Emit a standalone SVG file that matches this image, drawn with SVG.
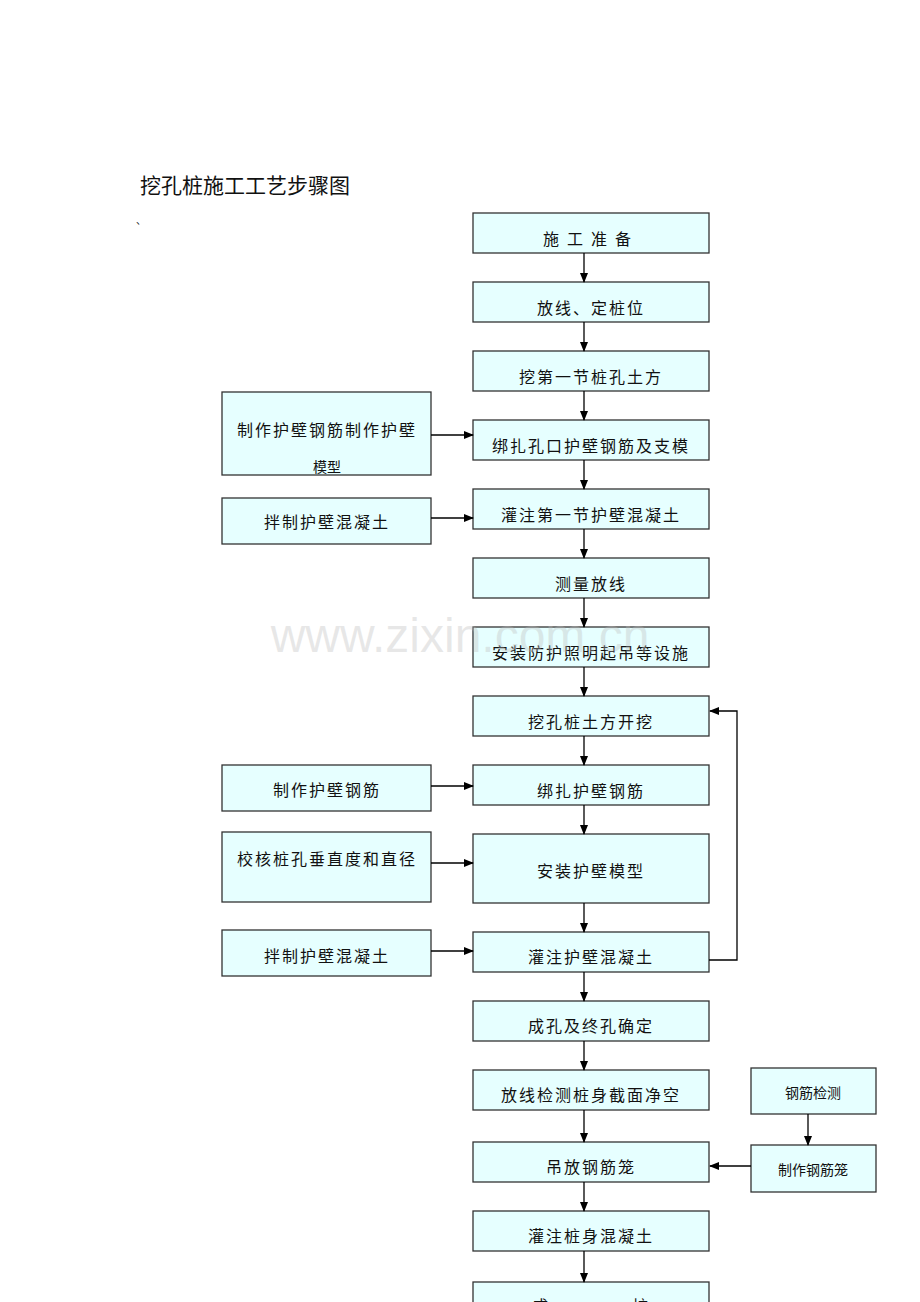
<svg xmlns="http://www.w3.org/2000/svg" width="920" height="1302" viewBox="0 0 920 1302">
<defs><marker id="a" markerWidth="10" markerHeight="8" refX="9" refY="4" orient="auto" markerUnits="userSpaceOnUse"><path d="M0,0L10,4L0,8z" fill="#000"/></marker></defs>
<style>rect{fill:#e6ffff;stroke:#333;stroke-width:1.3}text{font-family:"Noto Sans CJK SC",sans-serif;font-size:16px;fill:#111;text-anchor:middle;letter-spacing:2px}.c line,.c path{stroke:#000;stroke-width:1.3;fill:none;marker-end:url(#a)}.s{font-size:14px;letter-spacing:0}</style>
<rect width="920" height="1302" style="fill:#fff;stroke:none"/>
<text x="140" y="193" style="text-anchor:start;font-size:21px;letter-spacing:0">挖孔桩施工工艺步骤图</text>
<text x="142" y="224" style="font-size:10px">、</text>
<g id="m1"><rect x="473" y="213" width="236" height="40"/><text x="591" y="245" style="letter-spacing:8px">施工准备</text></g>
<g id="m2"><rect x="473" y="282" width="236" height="40"/><text x="591" y="314">放线、定桩位</text></g>
<g id="m3"><rect x="473" y="351" width="236" height="40"/><text x="591" y="383">挖第一节桩孔土方</text></g>
<g id="m4"><rect x="473" y="420" width="236" height="40"/><text x="591" y="452">绑扎孔口护壁钢筋及支模</text></g>
<g id="m5"><rect x="473" y="489" width="236" height="40"/><text x="591" y="521">灌注第一节护壁混凝土</text></g>
<g id="m6"><rect x="473" y="558" width="236" height="40"/><text x="591" y="590">测量放线</text></g>
<g id="m7"><rect x="473" y="627" width="236" height="40"/><text x="591" y="659">安装防护照明起吊等设施</text></g>
<g id="m8"><rect x="473" y="696" width="236" height="40"/><text x="591" y="728">挖孔桩土方开挖</text></g>
<g id="m9"><rect x="473" y="765" width="236" height="40"/><text x="591" y="797">绑扎护壁钢筋</text></g>
<g id="m10"><rect x="473" y="834" width="236" height="69"/><text x="591" y="877">安装护壁模型</text></g>
<g id="m11"><rect x="473" y="932" width="236" height="40"/><text x="591" y="963">灌注护壁混凝土</text></g>
<g id="m12"><rect x="473" y="1001" width="236" height="40"/><text x="591" y="1032">成孔及终孔确定</text></g>
<g id="m13"><rect x="473" y="1070" width="236" height="40"/><text x="591" y="1101">放线检测桩身截面净空</text></g>
<g id="m14"><rect x="473" y="1142" width="236" height="40"/><text x="591" y="1173">吊放钢筋笼</text></g>
<g id="m15"><rect x="473" y="1211" width="236" height="40"/><text x="591" y="1242">灌注桩身混凝土</text></g>
<g id="m16"><rect x="473" y="1282" width="236" height="40"/><text x="541" y="1312">成</text><text x="641" y="1312">桩</text></g>
<g id="l1"><rect x="222" y="392" width="209" height="83"/><text x="327" y="436">制作护壁钢筋制作护壁</text><text x="327" y="472" class="s">模型</text></g>
<g id="l2"><rect x="222" y="498" width="209" height="46"/><text x="327" y="528">拌制护壁混凝土</text></g>
<g id="l3"><rect x="222" y="765" width="209" height="46"/><text x="327" y="796">制作护壁钢筋</text></g>
<g id="l4"><rect x="222" y="832" width="209" height="70"/><text x="327" y="865">校核桩孔垂直度和直径</text></g>
<g id="l5"><rect x="222" y="930" width="209" height="46"/><text x="327" y="962">拌制护壁混凝土</text></g>
<g id="r1"><rect x="751" y="1068" width="125" height="46"/><text x="813" y="1098" class="s">钢筋检测</text></g>
<g id="r2"><rect x="751" y="1145" width="125" height="47"/><text x="813" y="1175" class="s">制作钢筋笼</text></g>
<g class="c">
<line x1="584" y1="253" x2="584" y2="282"/><line x1="584" y1="322" x2="584" y2="351"/><line x1="584" y1="391" x2="584" y2="420"/><line x1="584" y1="460" x2="584" y2="489"/><line x1="584" y1="529" x2="584" y2="558"/><line x1="584" y1="598" x2="584" y2="627"/><line x1="584" y1="667" x2="584" y2="696"/><line x1="584" y1="736" x2="584" y2="765"/><line x1="584" y1="805" x2="584" y2="834"/><line x1="584" y1="903" x2="584" y2="932"/><line x1="584" y1="972" x2="584" y2="1001"/><line x1="584" y1="1041" x2="584" y2="1070"/><line x1="584" y1="1110" x2="584" y2="1142"/><line x1="584" y1="1182" x2="584" y2="1211"/><line x1="584" y1="1251" x2="584" y2="1282"/>
<line x1="431" y1="435" x2="473" y2="435"/><line x1="431" y1="518" x2="473" y2="518"/><line x1="431" y1="786" x2="473" y2="786"/><line x1="431" y1="863" x2="473" y2="863"/><line x1="431" y1="951" x2="473" y2="951"/>
<path d="M709,960H737V711H710"/>
<line x1="808" y1="1114" x2="808" y2="1145"/><line x1="751" y1="1166" x2="710" y2="1166"/>
</g>
<text x="460" y="652" style="font-family:'Liberation Sans',sans-serif;font-size:48px;fill:#bbb;fill-opacity:0.35;letter-spacing:0">www.zixin.com.cn</text>
</svg>
